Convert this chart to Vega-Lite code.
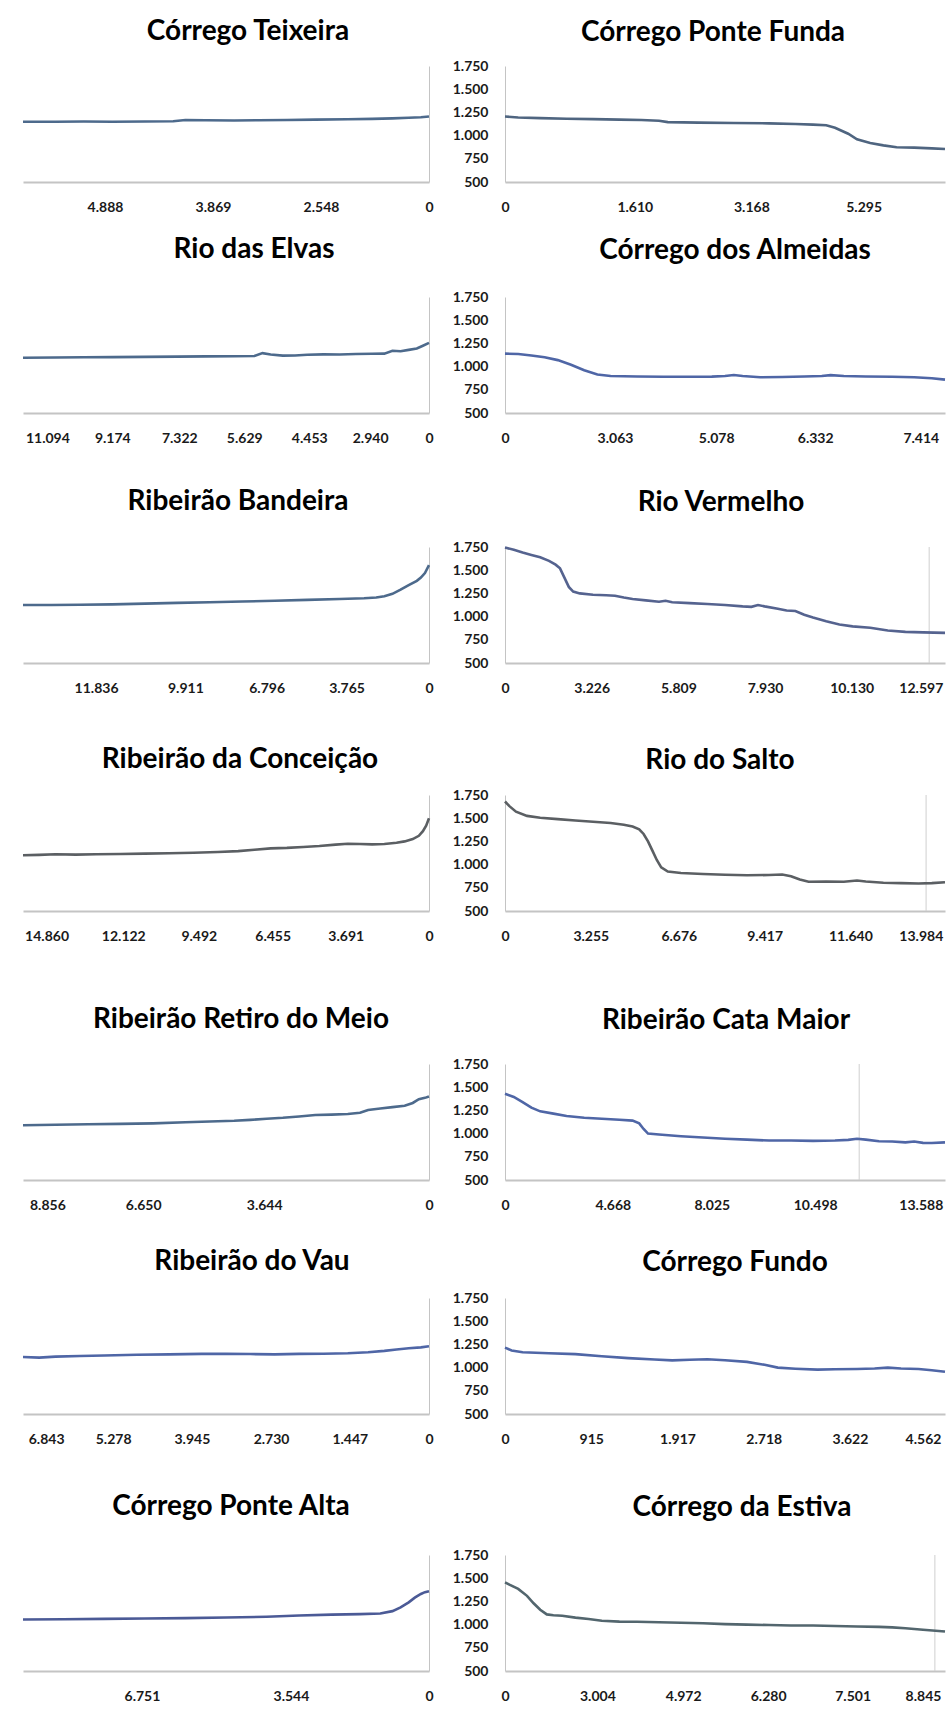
{
  "$schema": "https://vega.github.io/schema/vega-lite/v6.json",
  "padding": {"left": 17, "top": 18, "right": 0, "bottom": 0},
  "spacing": 0,
  "config": {
    "view": {"stroke": null},
    "font": "Lato",
    "title": {"font": "Lato", "fontSize": 28, "fontWeight": "bold", "color": "#000000", "anchor": "middle", "frame": "group"},
    "axis": {"grid": false, "ticks": false, "tickSize": 0, "labelFont": "Lato", "labelFontSize": 14, "labelFontWeight": "bold", "labelColor": "#1a1a1a", "domainColor": "#c4c4c4", "labelFlush": false, "labelOverlap": false},
    "axisX": {"labelPadding": 18, "domainWidth": 2},
    "axisY": {"labelPadding": 17, "domainWidth": 1},
    "line": {"strokeWidth": 2.6}
  },
  "vconcat": [
    {"spacing": 13, "hconcat": [
      {"width": 406, "height": 116, "title": {"text": "Córrego Teixeira", "offset": 20, "dx": 22},
       "data": {"values": [{"p":100,"z":1150},{"p":92,"z":1150},{"p":85,"z":1152},{"p":78,"z":1150},{"p":70,"z":1152},{"p":63,"z":1155},{"p":60,"z":1168},{"p":55,"z":1165},{"p":48,"z":1163},{"p":42,"z":1165},{"p":35,"z":1168},{"p":28,"z":1172},{"p":20,"z":1176},{"p":14,"z":1180},{"p":9,"z":1186},{"p":5,"z":1192},{"p":2,"z":1197},{"p":0,"z":1205}]},
       "mark": {"type": "line", "color": "#4d6a8c"},
       "encoding": {
         "x": {"field": "p", "type": "quantitative", "scale": {"domain": [0, 100], "reverse": true, "nice": false, "zero": false},
               "axis": {"title": null, "values": [0, 26.6, 53.2, 79.8], "labelExpr": "['0','2.548','3.869','4.888'][indexof([0,26.6,53.2,79.8], datum.value)]", "minExtent": 54, "maxExtent": 54}},
         "y": {"field": "z", "type": "quantitative", "scale": {"domain": [500, 1750], "nice": false, "zero": false},
               "axis": {"orient": "right", "title": null, "labels": false, "minExtent": 0, "maxExtent": 0}}
       }},
      {"width": 440, "height": 116, "title": {"text": "Córrego Ponte Funda", "offset": 12, "dx": -12},
       "data": {"values": [{"p":0,"z":1205},{"p":3,"z":1195},{"p":8,"z":1188},{"p":14,"z":1182},{"p":20,"z":1178},{"p":26,"z":1172},{"p":31,"z":1168},{"p":35,"z":1160},{"p":37,"z":1145},{"p":44,"z":1140},{"p":52,"z":1136},{"p":60,"z":1132},{"p":66,"z":1125},{"p":70,"z":1118},{"p":73,"z":1112},{"p":75,"z":1085},{"p":78,"z":1020},{"p":80,"z":960},{"p":83,"z":920},{"p":86,"z":895},{"p":89,"z":875},{"p":93,"z":870},{"p":97,"z":862},{"p":100,"z":855}]},
       "mark": {"type": "line", "color": "#4f6580"},
       "encoding": {
         "x": {"field": "p", "type": "quantitative", "scale": {"domain": [0, 100], "nice": false, "zero": false},
               "axis": {"title": null, "values": [0, 29.5, 56, 81.5], "labelExpr": "['0','1.610','3.168','5.295'][indexof([0,29.5,56,81.5], datum.value)]", "minExtent": 54, "maxExtent": 54}},
         "y": {"field": "z", "type": "quantitative", "scale": {"domain": [500, 1750], "nice": false, "zero": false},
               "axis": {"orient": "left", "title": null, "values": [500, 750, 1000, 1250, 1500, 1750], "labelExpr": "replace(format(datum.value, ','), ',', '.')", "minExtent": 57, "maxExtent": 57}}
       }}
    ]},
    {"spacing": 13, "hconcat": [
      {"width": 406, "height": 116, "title": {"text": "Rio das Elvas", "offset": 33, "dx": 28},
       "data": {"values": [{"p":100,"z":1095},{"p":92,"z":1098},{"p":85,"z":1100},{"p":78,"z":1102},{"p":70,"z":1105},{"p":62,"z":1108},{"p":55,"z":1110},{"p":48,"z":1112},{"p":43,"z":1115},{"p":41,"z":1145},{"p":39,"z":1130},{"p":36,"z":1118},{"p":33,"z":1120},{"p":30,"z":1128},{"p":26,"z":1132},{"p":22,"z":1130},{"p":18,"z":1135},{"p":14,"z":1138},{"p":11,"z":1140},{"p":9,"z":1170},{"p":7,"z":1165},{"p":5,"z":1180},{"p":3,"z":1195},{"p":1.5,"z":1225},{"p":0,"z":1255}]},
       "mark": {"type": "line", "color": "#4d6a8c"},
       "encoding": {
         "x": {"field": "p", "type": "quantitative", "scale": {"domain": [0, 100], "reverse": true, "nice": false, "zero": false},
               "axis": {"title": null, "values": [0, 14.5, 29.5, 45.5, 61.5, 78, 94], "labelExpr": "['0','2.940','4.453','5.629','7.322','9.174','11.094'][indexof([0,14.5,29.5,45.5,61.5,78,94], datum.value)]", "minExtent": 75, "maxExtent": 75}},
         "y": {"field": "z", "type": "quantitative", "scale": {"domain": [500, 1750], "nice": false, "zero": false},
               "axis": {"orient": "right", "title": null, "labels": false, "minExtent": 0, "maxExtent": 0}}
       }},
      {"width": 440, "height": 116, "title": {"text": "Córrego dos Almeidas", "offset": 25, "dx": 10},
       "data": {"values": [{"p":0,"z":1140},{"p":3,"z":1135},{"p":6,"z":1120},{"p":9,"z":1100},{"p":12,"z":1070},{"p":15,"z":1020},{"p":18,"z":960},{"p":21,"z":915},{"p":24,"z":898},{"p":30,"z":893},{"p":36,"z":890},{"p":42,"z":890},{"p":47,"z":892},{"p":50,"z":898},{"p":52,"z":910},{"p":54,"z":898},{"p":58,"z":885},{"p":63,"z":888},{"p":68,"z":893},{"p":72,"z":898},{"p":74,"z":908},{"p":77,"z":898},{"p":82,"z":893},{"p":88,"z":890},{"p":93,"z":886},{"p":97,"z":875},{"p":100,"z":860}]},
       "mark": {"type": "line", "color": "#4f66a6"},
       "encoding": {
         "x": {"field": "p", "type": "quantitative", "scale": {"domain": [0, 100], "nice": false, "zero": false},
               "axis": {"title": null, "values": [0, 25, 48, 70.5, 94.5], "labelExpr": "['0','3.063','5.078','6.332','7.414'][indexof([0,25,48,70.5,94.5], datum.value)]", "minExtent": 75, "maxExtent": 75}},
         "y": {"field": "z", "type": "quantitative", "scale": {"domain": [500, 1750], "nice": false, "zero": false},
               "axis": {"orient": "left", "title": null, "values": [500, 750, 1000, 1250, 1500, 1750], "labelExpr": "replace(format(datum.value, ','), ',', '.')", "minExtent": 57, "maxExtent": 57}}
       }}
    ]},
    {"spacing": 13, "hconcat": [
      {"width": 406, "height": 116, "title": {"text": "Ribeirão Bandeira", "offset": 31, "dx": 12},
       "data": {"values": [{"p":100,"z":1125},{"p":93,"z":1125},{"p":86,"z":1127},{"p":78,"z":1132},{"p":70,"z":1140},{"p":62,"z":1148},{"p":54,"z":1155},{"p":46,"z":1162},{"p":38,"z":1170},{"p":30,"z":1180},{"p":22,"z":1190},{"p":16,"z":1198},{"p":13,"z":1205},{"p":11,"z":1220},{"p":9,"z":1245},{"p":7,"z":1290},{"p":5,"z":1340},{"p":3,"z":1385},{"p":2,"z":1420},{"p":1,"z":1470},{"p":0,"z":1555}]},
       "mark": {"type": "line", "color": "#4d6a8c"},
       "encoding": {
         "x": {"field": "p", "type": "quantitative", "scale": {"domain": [0, 100], "reverse": true, "nice": false, "zero": false},
               "axis": {"title": null, "values": [0, 20.3, 40, 60, 82], "labelExpr": "['0','3.765','6.796','9.911','11.836'][indexof([0,20.3,40,60,82], datum.value)]", "minExtent": 83, "maxExtent": 83}},
         "y": {"field": "z", "type": "quantitative", "scale": {"domain": [500, 1750], "nice": false, "zero": false},
               "axis": {"orient": "right", "title": null, "labels": false, "minExtent": 0, "maxExtent": 0}}
       }},
      {"width": 440, "height": 116, "title": {"text": "Rio Vermelho", "offset": 23, "dx": -4},
       "layer": [
         {"data": {"values": [{"p": 96.4}]}, "mark": {"type": "rule", "color": "#cfcfcf", "strokeWidth": 1},
          "encoding": {"x": {"field": "p", "type": "quantitative", "scale": {"domain": [0, 100], "nice": false, "zero": false}}}},
         {"data": {"values": [{"p":0,"z":1745},{"p":2,"z":1720},{"p":4,"z":1690},{"p":6,"z":1665},{"p":8,"z":1640},{"p":10,"z":1600},{"p":11.5,"z":1560},{"p":12.5,"z":1520},{"p":13.5,"z":1420},{"p":14.5,"z":1320},{"p":15.5,"z":1270},{"p":17,"z":1250},{"p":20,"z":1235},{"p":23,"z":1230},{"p":25,"z":1225},{"p":27,"z":1205},{"p":29,"z":1190},{"p":32,"z":1175},{"p":35,"z":1160},{"p":36.5,"z":1170},{"p":38,"z":1155},{"p":42,"z":1145},{"p":46,"z":1135},{"p":50,"z":1125},{"p":54,"z":1110},{"p":56,"z":1105},{"p":57.5,"z":1125},{"p":59,"z":1110},{"p":62,"z":1085},{"p":64,"z":1065},{"p":66,"z":1060},{"p":68,"z":1020},{"p":70,"z":990},{"p":73,"z":950},{"p":76,"z":915},{"p":79,"z":895},{"p":83,"z":880},{"p":87,"z":850},{"p":91,"z":835},{"p":95,"z":830},{"p":100,"z":825}]},
          "mark": {"type": "line", "color": "#55638f"},
          "encoding": {
            "x": {"field": "p", "type": "quantitative", "scale": {"domain": [0, 100], "nice": false, "zero": false},
                  "axis": {"title": null, "values": [0, 19.7, 39.4, 59.1, 78.8, 94.5], "labelExpr": "['0','3.226','5.809','7.930','10.130','12.597'][indexof([0,19.7,39.4,59.1,78.8,94.5], datum.value)]", "minExtent": 83, "maxExtent": 83}},
            "y": {"field": "z", "type": "quantitative", "scale": {"domain": [500, 1750], "nice": false, "zero": false},
                  "axis": {"orient": "left", "title": null, "values": [500, 750, 1000, 1250, 1500, 1750], "labelExpr": "replace(format(datum.value, ','), ',', '.')", "minExtent": 57, "maxExtent": 57}}
          }}
       ]}
    ]},
    {"spacing": 13, "hconcat": [
      {"width": 406, "height": 116, "title": {"text": "Ribeirão da Conceição", "offset": 21, "dx": 14},
       "data": {"values": [{"p":100,"z":1100},{"p":96,"z":1105},{"p":92,"z":1112},{"p":87,"z":1108},{"p":82,"z":1112},{"p":76,"z":1115},{"p":70,"z":1118},{"p":64,"z":1122},{"p":58,"z":1128},{"p":52,"z":1135},{"p":47,"z":1145},{"p":43,"z":1160},{"p":39,"z":1175},{"p":35,"z":1180},{"p":31,"z":1190},{"p":27,"z":1200},{"p":23,"z":1215},{"p":20,"z":1225},{"p":17,"z":1222},{"p":14,"z":1218},{"p":11,"z":1222},{"p":8,"z":1235},{"p":6,"z":1250},{"p":4,"z":1275},{"p":2.5,"z":1310},{"p":1.5,"z":1360},{"p":0.7,"z":1420},{"p":0,"z":1500}]},
       "mark": {"type": "line", "color": "#5b5f63"},
       "encoding": {
         "x": {"field": "p", "type": "quantitative", "scale": {"domain": [0, 100], "reverse": true, "nice": false, "zero": false},
               "axis": {"title": null, "values": [0, 20.5, 38.5, 56.7, 75.3, 94.2], "labelExpr": "['0','3.691','6.455','9.492','12.122','14.860'][indexof([0,20.5,38.5,56.7,75.3,94.2], datum.value)]", "minExtent": 95, "maxExtent": 95}},
         "y": {"field": "z", "type": "quantitative", "scale": {"domain": [500, 1750], "nice": false, "zero": false},
               "axis": {"orient": "right", "title": null, "labels": false, "minExtent": 0, "maxExtent": 0}}
       }},
      {"width": 440, "height": 116, "title": {"text": "Rio do Salto", "offset": 13, "dx": -5},
       "layer": [
         {"data": {"values": [{"p": 95.7}]}, "mark": {"type": "rule", "color": "#cfcfcf", "strokeWidth": 1},
          "encoding": {"x": {"field": "p", "type": "quantitative", "scale": {"domain": [0, 100], "nice": false, "zero": false}}}},
         {"data": {"values": [{"p":0,"z":1680},{"p":1,"z":1630},{"p":2.5,"z":1570},{"p":5,"z":1525},{"p":8,"z":1505},{"p":12,"z":1490},{"p":16,"z":1475},{"p":20,"z":1462},{"p":24,"z":1448},{"p":27,"z":1430},{"p":29,"z":1410},{"p":30.5,"z":1380},{"p":31.5,"z":1330},{"p":32.5,"z":1250},{"p":33.5,"z":1150},{"p":34.5,"z":1050},{"p":35.5,"z":970},{"p":37,"z":925},{"p":40,"z":910},{"p":45,"z":898},{"p":50,"z":890},{"p":55,"z":885},{"p":60,"z":888},{"p":63,"z":893},{"p":65,"z":875},{"p":67,"z":840},{"p":69,"z":815},{"p":73,"z":818},{"p":77,"z":815},{"p":80,"z":828},{"p":82,"z":818},{"p":86,"z":805},{"p":90,"z":800},{"p":94,"z":797},{"p":97,"z":800},{"p":100,"z":810}]},
          "mark": {"type": "line", "color": "#5b5f63"},
          "encoding": {
            "x": {"field": "p", "type": "quantitative", "scale": {"domain": [0, 100], "nice": false, "zero": false},
                  "axis": {"title": null, "values": [0, 19.5, 39.5, 59, 78.5, 94.5], "labelExpr": "['0','3.255','6.676','9.417','11.640','13.984'][indexof([0,19.5,39.5,59,78.5,94.5], datum.value)]", "minExtent": 95, "maxExtent": 95}},
            "y": {"field": "z", "type": "quantitative", "scale": {"domain": [500, 1750], "nice": false, "zero": false},
                  "axis": {"orient": "left", "title": null, "values": [500, 750, 1000, 1250, 1500, 1750], "labelExpr": "replace(format(datum.value, ','), ',', '.')", "minExtent": 57, "maxExtent": 57}}
          }}
       ]}
    ]},
    {"spacing": 13, "hconcat": [
      {"width": 406, "height": 116, "title": {"text": "Ribeirão Retiro do Meio", "offset": 30, "dx": 15},
       "data": {"values": [{"p":100,"z":1090},{"p":92,"z":1095},{"p":84,"z":1100},{"p":76,"z":1105},{"p":68,"z":1110},{"p":60,"z":1122},{"p":54,"z":1130},{"p":48,"z":1138},{"p":44,"z":1148},{"p":40,"z":1160},{"p":36,"z":1170},{"p":32,"z":1185},{"p":28,"z":1200},{"p":24,"z":1205},{"p":20,"z":1212},{"p":17,"z":1225},{"p":15,"z":1255},{"p":12,"z":1270},{"p":9,"z":1285},{"p":6,"z":1300},{"p":4,"z":1330},{"p":2.5,"z":1370},{"p":1,"z":1385},{"p":0,"z":1400}]},
       "mark": {"type": "line", "color": "#4d6a8c"},
       "encoding": {
         "x": {"field": "p", "type": "quantitative", "scale": {"domain": [0, 100], "reverse": true, "nice": false, "zero": false},
               "axis": {"title": null, "values": [0, 40.6, 70.4, 94], "labelExpr": "['0','3.644','6.650','8.856'][indexof([0,40.6,70.4,94], datum.value)]", "minExtent": 68, "maxExtent": 68}},
         "y": {"field": "z", "type": "quantitative", "scale": {"domain": [500, 1750], "nice": false, "zero": false},
               "axis": {"orient": "right", "title": null, "labels": false, "minExtent": 0, "maxExtent": 0}}
       }},
      {"width": 440, "height": 116, "title": {"text": "Ribeirão Cata Maior", "offset": 22, "dx": 1},
       "layer": [
         {"data": {"values": [{"p": 80.5}]}, "mark": {"type": "rule", "color": "#cfcfcf", "strokeWidth": 1},
          "encoding": {"x": {"field": "p", "type": "quantitative", "scale": {"domain": [0, 100], "nice": false, "zero": false}}}},
         {"data": {"values": [{"p":0,"z":1430},{"p":2,"z":1395},{"p":4,"z":1340},{"p":6,"z":1280},{"p":8,"z":1240},{"p":11,"z":1215},{"p":14,"z":1190},{"p":18,"z":1170},{"p":22,"z":1160},{"p":26,"z":1150},{"p":29,"z":1140},{"p":30.5,"z":1110},{"p":31.5,"z":1050},{"p":32.5,"z":1000},{"p":35,"z":990},{"p":40,"z":972},{"p":45,"z":958},{"p":50,"z":945},{"p":55,"z":935},{"p":60,"z":925},{"p":65,"z":925},{"p":70,"z":922},{"p":75,"z":925},{"p":78,"z":932},{"p":80,"z":945},{"p":82,"z":935},{"p":85,"z":918},{"p":88,"z":915},{"p":91,"z":905},{"p":93,"z":915},{"p":95,"z":900},{"p":97,"z":898},{"p":100,"z":905}]},
          "mark": {"type": "line", "color": "#4f66a6"},
          "encoding": {
            "x": {"field": "p", "type": "quantitative", "scale": {"domain": [0, 100], "nice": false, "zero": false},
                  "axis": {"title": null, "values": [0, 24.5, 47, 70.5, 94.5], "labelExpr": "['0','4.668','8.025','10.498','13.588'][indexof([0,24.5,47,70.5,94.5], datum.value)]", "minExtent": 68, "maxExtent": 68}},
            "y": {"field": "z", "type": "quantitative", "scale": {"domain": [500, 1750], "nice": false, "zero": false},
                  "axis": {"orient": "left", "title": null, "values": [500, 750, 1000, 1250, 1500, 1750], "labelExpr": "replace(format(datum.value, ','), ',', '.')", "minExtent": 57, "maxExtent": 57}}
          }}
       ]}
    ]},
    {"spacing": 13, "hconcat": [
      {"width": 406, "height": 116, "title": {"text": "Ribeirão do Vau", "offset": 22, "dx": 26},
       "data": {"values": [{"p":100,"z":1115},{"p":96,"z":1108},{"p":92,"z":1118},{"p":86,"z":1125},{"p":80,"z":1130},{"p":72,"z":1138},{"p":64,"z":1142},{"p":56,"z":1148},{"p":50,"z":1150},{"p":44,"z":1146},{"p":38,"z":1143},{"p":32,"z":1148},{"p":26,"z":1150},{"p":20,"z":1155},{"p":15,"z":1165},{"p":11,"z":1180},{"p":8,"z":1195},{"p":5,"z":1208},{"p":2,"z":1218},{"p":0,"z":1230}]},
       "mark": {"type": "line", "color": "#4f66a6"},
       "encoding": {
         "x": {"field": "p", "type": "quantitative", "scale": {"domain": [0, 100], "reverse": true, "nice": false, "zero": false},
               "axis": {"title": null, "values": [0, 19.5, 38.9, 58.4, 77.8, 94.3], "labelExpr": "['0','1.447','2.730','3.945','5.278','6.843'][indexof([0,19.5,38.9,58.4,77.8,94.3], datum.value)]", "minExtent": 79, "maxExtent": 79}},
         "y": {"field": "z", "type": "quantitative", "scale": {"domain": [500, 1750], "nice": false, "zero": false},
               "axis": {"orient": "right", "title": null, "labels": false, "minExtent": 0, "maxExtent": 0}}
       }},
      {"width": 440, "height": 116, "title": {"text": "Córrego Fundo", "offset": 14, "dx": 10},
       "data": {"values": [{"p":0,"z":1215},{"p":1.5,"z":1185},{"p":4,"z":1165},{"p":10,"z":1155},{"p":16,"z":1145},{"p":22,"z":1122},{"p":28,"z":1102},{"p":34,"z":1088},{"p":38,"z":1078},{"p":42,"z":1085},{"p":46,"z":1090},{"p":50,"z":1080},{"p":55,"z":1062},{"p":59,"z":1030},{"p":62,"z":1000},{"p":66,"z":988},{"p":71,"z":978},{"p":75,"z":982},{"p":80,"z":985},{"p":84,"z":990},{"p":87,"z":1000},{"p":90,"z":990},{"p":94,"z":985},{"p":97,"z":972},{"p":100,"z":955}]},
       "mark": {"type": "line", "color": "#4f66a6"},
       "encoding": {
         "x": {"field": "p", "type": "quantitative", "scale": {"domain": [0, 100], "nice": false, "zero": false},
               "axis": {"title": null, "values": [0, 19.6, 39.2, 58.8, 78.4, 95], "labelExpr": "['0','915','1.917','2.718','3.622','4.562'][indexof([0,19.6,39.2,58.8,78.4,95], datum.value)]", "minExtent": 79, "maxExtent": 79}},
         "y": {"field": "z", "type": "quantitative", "scale": {"domain": [500, 1750], "nice": false, "zero": false},
               "axis": {"orient": "left", "title": null, "values": [500, 750, 1000, 1250, 1500, 1750], "labelExpr": "replace(format(datum.value, ','), ',', '.')", "minExtent": 57, "maxExtent": 57}}
       }}
    ]},
    {"spacing": 13, "hconcat": [
      {"width": 406, "height": 116, "title": {"text": "Córrego Ponte Alta", "offset": 34, "dx": 5},
       "data": {"values": [{"p":100,"z":1055},{"p":90,"z":1058},{"p":80,"z":1062},{"p":70,"z":1066},{"p":60,"z":1070},{"p":50,"z":1076},{"p":40,"z":1085},{"p":32,"z":1098},{"p":24,"z":1108},{"p":17,"z":1113},{"p":12,"z":1120},{"p":9,"z":1145},{"p":7,"z":1185},{"p":5,"z":1240},{"p":3.5,"z":1290},{"p":2,"z":1330},{"p":1,"z":1350},{"p":0,"z":1360}]},
       "mark": {"type": "line", "color": "#4b5a96"},
       "encoding": {
         "x": {"field": "p", "type": "quantitative", "scale": {"domain": [0, 100], "reverse": true, "nice": false, "zero": false},
               "axis": {"title": null, "values": [0, 34, 70.7], "labelExpr": "['0','3.544','6.751'][indexof([0,34,70.7], datum.value)]"}},
         "y": {"field": "z", "type": "quantitative", "scale": {"domain": [500, 1750], "nice": false, "zero": false},
               "axis": {"orient": "right", "title": null, "labels": false, "minExtent": 0, "maxExtent": 0}}
       }},
      {"width": 440, "height": 116, "title": {"text": "Córrego da Estiva", "offset": 26, "dx": 17},
       "layer": [
         {"data": {"values": [{"p": 97.7}]}, "mark": {"type": "rule", "color": "#cfcfcf", "strokeWidth": 1},
          "encoding": {"x": {"field": "p", "type": "quantitative", "scale": {"domain": [0, 100], "nice": false, "zero": false}}}},
         {"data": {"values": [{"p":0,"z":1455},{"p":1,"z":1430},{"p":3,"z":1385},{"p":5,"z":1310},{"p":6.5,"z":1230},{"p":8,"z":1160},{"p":9.5,"z":1110},{"p":11,"z":1100},{"p":13,"z":1095},{"p":16,"z":1075},{"p":19,"z":1060},{"p":22,"z":1042},{"p":26,"z":1032},{"p":30,"z":1030},{"p":35,"z":1025},{"p":40,"z":1020},{"p":45,"z":1015},{"p":50,"z":1005},{"p":55,"z":1000},{"p":60,"z":995},{"p":65,"z":990},{"p":70,"z":990},{"p":75,"z":985},{"p":80,"z":980},{"p":85,"z":975},{"p":88,"z":970},{"p":91,"z":960},{"p":95,"z":945},{"p":100,"z":925}]},
          "mark": {"type": "line", "color": "#53666e"},
          "encoding": {
            "x": {"field": "p", "type": "quantitative", "scale": {"domain": [0, 100], "nice": false, "zero": false},
                  "axis": {"title": null, "values": [0, 21, 40.5, 59.8, 79, 95], "labelExpr": "['0','3.004','4.972','6.280','7.501','8.845'][indexof([0,21,40.5,59.8,79,95], datum.value)]"}},
            "y": {"field": "z", "type": "quantitative", "scale": {"domain": [500, 1750], "nice": false, "zero": false},
                  "axis": {"orient": "left", "title": null, "values": [500, 750, 1000, 1250, 1500, 1750], "labelExpr": "replace(format(datum.value, ','), ',', '.')", "minExtent": 57, "maxExtent": 57}}
          }}
       ]}
    ]}
  ]
}
